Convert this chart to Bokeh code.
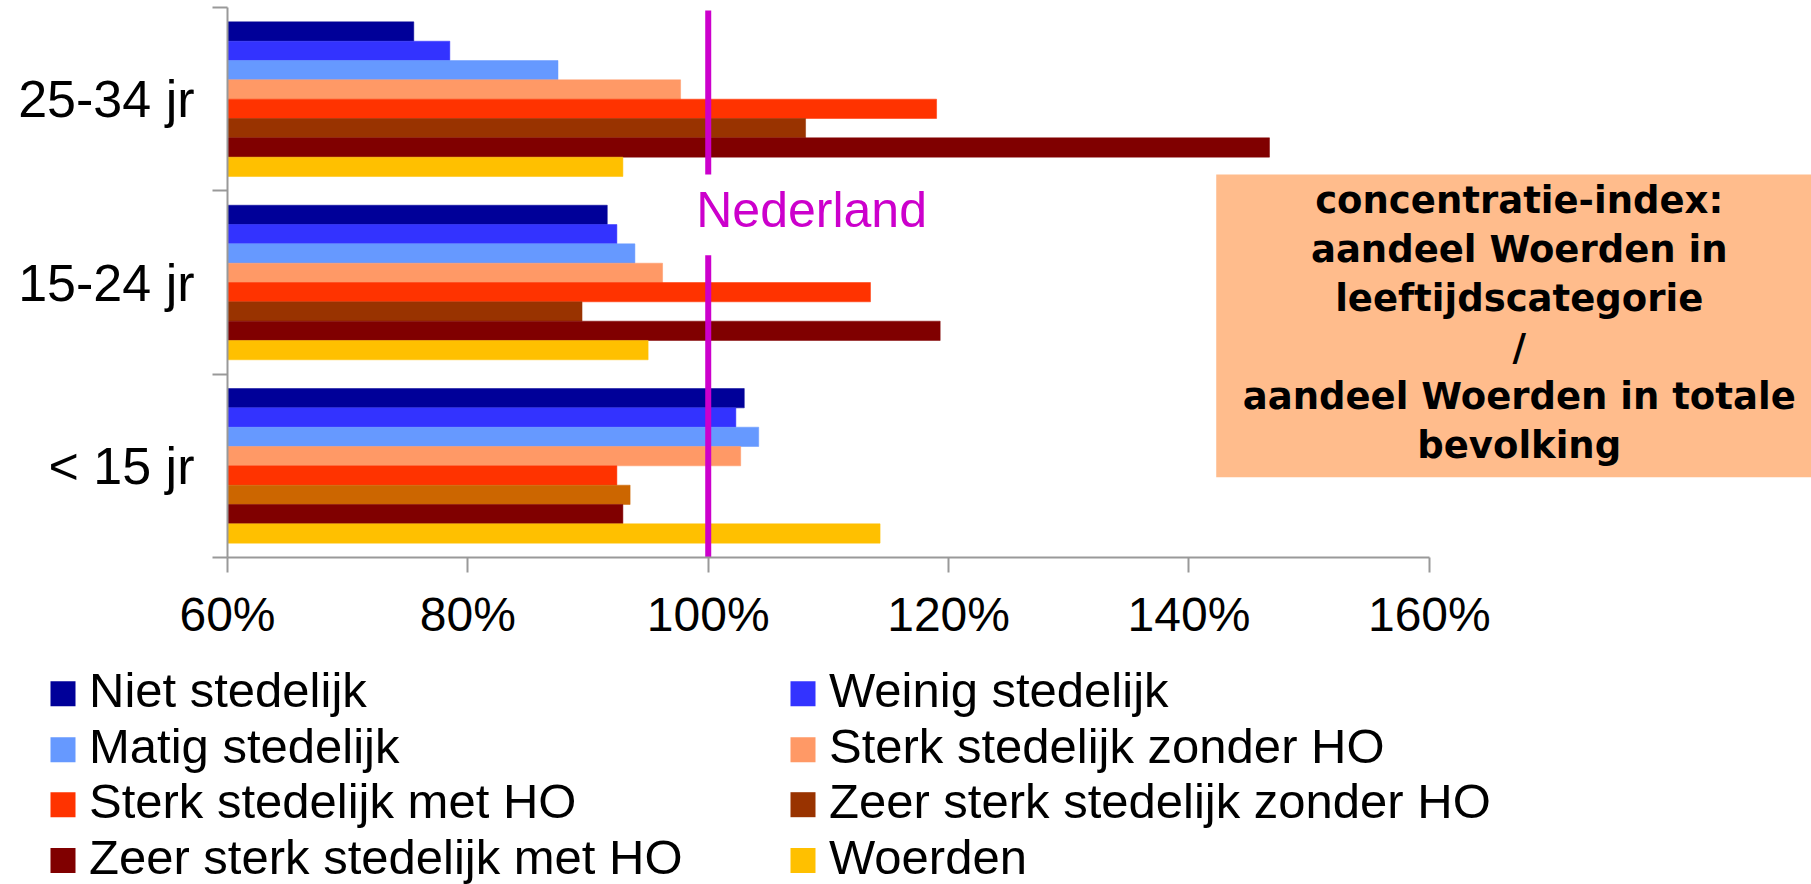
from bokeh.plotting import figure
from bokeh.layouts import column
from bokeh.models import Range1d, FixedTicker, ColumnDataSource
from bokeh.embed import file_html
from bokeh.resources import INLINE
from bokeh.core.properties import value

# ---------------- data ----------------
categories = ["< 15 jr", "15-24 jr", "25-34 jr"]          # bottom -> top
series_names = [
    "Niet stedelijk", "Weinig stedelijk", "Matig stedelijk",
    "Sterk stedelijk zonder HO", "Sterk stedelijk met HO",
    "Zeer sterk stedelijk zonder HO", "Zeer sterk stedelijk met HO", "Woerden",
]
# values in %, order: < 15 jr, 15-24 jr, 25-34 jr
niet_stedelijk = [103.0, 91.6, 75.5]
weinig_stedelijk = [102.3, 92.4, 78.5]
matig_stedelijk = [104.2, 93.9, 87.5]
sterk_zonder_ho = [102.7, 96.2, 97.7]
sterk_met_ho = [92.4, 113.5, 119.0]
zeer_sterk_zonder_ho = [93.5, 89.5, 108.1]
zeer_sterk_met_ho = [92.9, 119.3, 146.7]
woerden = [114.3, 95.0, 92.9]
series_values = [niet_stedelijk, weinig_stedelijk, matig_stedelijk, sterk_zonder_ho,
                 sterk_met_ho, zeer_sterk_zonder_ho, zeer_sterk_met_ho, woerden]
series_colors = ["#000099", "#3333FF", "#6699FF", "#FF9966",
                 "#FF3300", "#993300", "#800000", "#FFC000"]
# one bar in the original is drawn in a different shade
bar_color_overrides = {(5, 0): "#CC6600"}

x_ticks = [60, 80, 100, 120, 140, 160]
nl_ref = 100
box_text = ("concentratie-index:\naandeel Woerden in\nleeftijdscategorie\n/\n"
            "aandeel Woerden in totale\nbevolking")

# ---------------- main figure ----------------
W = 1811
H1 = 660
H2 = 224
X_END = 191.8
FONT = "Liberation Sans"
GRAY = "#999999"
MAGENTA = "#CC00CC"

p = figure(width=W, height=H1, output_backend="svg", toolbar_location=None, title=None,
           x_range=Range1d(x_ticks[0], X_END), y_range=Range1d(0, len(categories)),
           min_border_left=227, min_border_right=0, min_border_top=7,
           min_border_bottom=H1 - 557)
p.frame_align = False
p.xgrid.visible = False
p.ygrid.visible = False
p.outline_line_color = None
p.background_fill_color = "white"
p.border_fill_color = "white"

xa = p.xaxis[0]
xa.ticker = FixedTicker(ticks=x_ticks, minor_ticks=[])
xa.major_label_overrides = {t: f"{t}%" for t in x_ticks}
xa.bounds = (x_ticks[0], x_ticks[-1])
xa.axis_line_color = GRAY
xa.axis_line_width = 2
xa.major_tick_line_color = GRAY
xa.major_tick_line_width = 2
xa.major_tick_out = 15
xa.major_tick_in = 0
xa.minor_tick_line_color = None
xa.major_label_text_font = FONT
xa.major_label_text_font_size = "48px"
xa.major_label_text_color = "black"
xa.major_label_standoff = 15

ya = p.yaxis[0]
ya.ticker = FixedTicker(ticks=[i + 0.5 for i in range(len(categories))],
                        minor_ticks=list(range(len(categories) + 1)))
ya.major_label_overrides = {i + 0.5: c for i, c in enumerate(categories)}
ya.axis_line_color = GRAY
ya.axis_line_width = 2
ya.major_tick_out = 0
ya.major_tick_in = 0
ya.major_tick_line_color = None
ya.minor_tick_out = 15
ya.minor_tick_in = 0
ya.minor_tick_line_color = GRAY
ya.minor_tick_line_width = 2
ya.major_label_text_font = FONT
ya.major_label_text_font_size = "52px"
ya.major_label_text_color = "black"
ya.major_label_standoff = 18

# ---------------- bars ----------------
n = len(series_names)
bar_h = 0.1054
for k, (name, vals) in enumerate(zip(series_names, series_values)):
    ys = [i + 0.5 + ((n - 1) / 2 - k) * bar_h for i in range(len(categories))]
    cols = [bar_color_overrides.get((k, i), series_colors[k]) for i in range(len(categories))]
    src = ColumnDataSource(dict(y=ys, right=vals, left=[x_ticks[0]] * len(vals), color=cols))
    p.hbar(y="y", left="left", right="right", height=bar_h, source=src,
           fill_color="color", line_color="color", line_width=0.5, name=name)

# ---------------- reference line "Nederland" ----------------
p.segment(x0=[nl_ref, nl_ref], x1=[nl_ref, nl_ref], y0=[2.984, 1.648], y1=[2.089, -0.02],
          line_color=MAGENTA, line_width=6)
p.text(x=[nl_ref + 8.6], y=[1.897], text=["Nederland"], text_align="center",
       text_baseline="middle", text_color=MAGENTA, text_font=value(FONT),
       text_font_size="50px")

# ---------------- explanatory box ----------------
p.quad(left=[142.27], right=[X_END], top=[2.089], bottom=[0.438],
       fill_color="#FFBC8C", line_color=None)
p.text(x=[167.48], y=[1.279], text=[box_text], text_align="center",
       text_baseline="middle", text_color="black", text_font=value("DejaVu Sans"),
       text_font_style="bold", text_font_size="37px", text_line_height=1.14)

# ---------------- legend (two columns, separate strip) ----------------
leg = figure(width=W, height=H2, output_backend="svg", toolbar_location=None, title=None,
             x_range=Range1d(0, W), y_range=Range1d(H2, 0),
             x_axis_type=None, y_axis_type=None,
             min_border_left=0, min_border_right=0, min_border_top=0, min_border_bottom=0)
leg.frame_align = False
leg.xgrid.visible = False
leg.ygrid.visible = False
leg.outline_line_color = None
leg.background_fill_color = "white"
leg.border_fill_color = "white"

legend_col_x = [62.5, 802.5]             # square centres (screen px)
legend_row_y = [33.3, 89.2, 144.2, 200]  # row centres (screen px)
sq_x, sq_y, tx_x, tx_y = [], [], [], []
for k in range(n):
    r, c = divmod(k, 2)
    sq_x.append(legend_col_x[c])
    sq_y.append(legend_row_y[r])
    tx_x.append(legend_col_x[c] + 26)
    tx_y.append(legend_row_y[r] - 4)
leg.rect(x=sq_x, y=sq_y, width=25, height=25, width_units="screen", height_units="screen",
         fill_color=series_colors, line_color=None)
leg.text(x=tx_x, y=tx_y, text=series_names, text_align="left", text_baseline="middle",
         text_color="black", text_font=value(FONT), text_font_size="49px")

layout = column(p, leg, spacing=0)
open("out.html", "w").write(file_html(layout, INLINE))
